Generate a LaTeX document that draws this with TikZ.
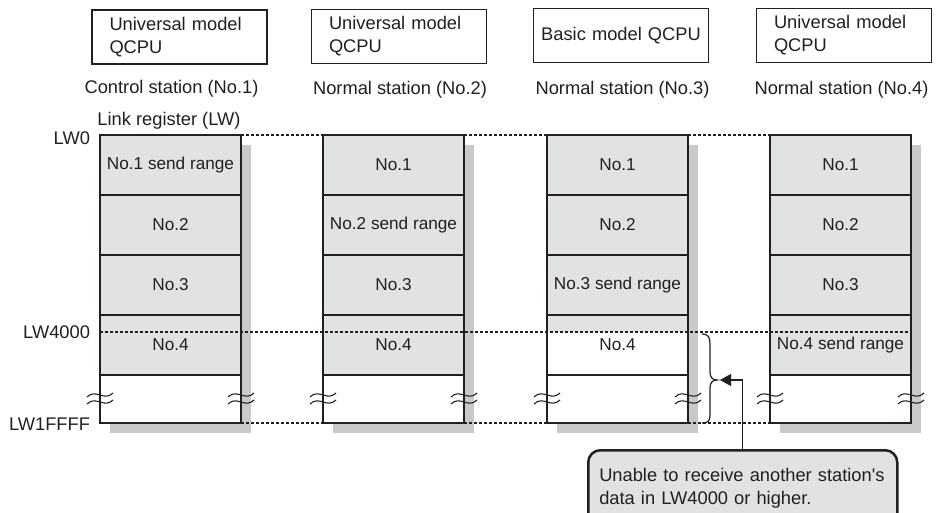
\documentclass[tikz,border=0pt]{standalone}
\usepackage{fontspec}
\setmainfont{Liberation Sans}
\usetikzlibrary{calc,arrows.meta}
\definecolor{ink}{HTML}{231F20}
\definecolor{cellgrey}{HTML}{E1E2E4}
\definecolor{shadowgrey}{HTML}{C8C9CB}
\definecolor{notegrey}{HTML}{E2E2E3}
\begin{document}
\begin{tikzpicture}[x=1pt,y=-1pt,
  lbl/.style={inner sep=0pt,outer sep=0pt,text=ink,font=\fontsize{18.3}{23}\selectfont},
  tbox/.style={draw=ink,line width=1.2pt,minimum width=175pt,minimum height=54pt,
    inner xsep=17.5pt,inner ysep=0pt,text width=140pt,align=left,text=ink,
    font=\fontsize{18.3}{23}\selectfont},
  cell/.style={draw=ink,line width=1.2pt,minimum width=141pt,minimum height=60pt,
    inner sep=0pt,outer sep=0pt,text=ink,font=\fontsize{17.2}{20}\selectfont},
  frame/.style={draw=ink,line width=2.5pt,minimum width=141pt,minimum height=288pt,
    inner sep=0pt,outer sep=0pt},
  dotline/.style={ink,line width=1.2pt,dash pattern=on 3pt off 2pt},
  note/.style={draw=ink,fill=notegrey,line width=2.5pt,rounded corners=12pt,
    minimum height=76pt,text width=287pt,inner xsep=11pt,inner ysep=0pt,
    align=left,text=ink,font=\fontsize{18.3}{23}\selectfont},
  brk/.pic={\draw[ink,line width=1.1pt] (-13,2) .. controls (-4,-7) and (4,7) .. (13,-2);}
]
\clip (0,0) rectangle (937,513);
\fill[white] (0,0) rectangle (937,513);

% CPU model boxes
\node[tbox] (t1) at (179.5,37) {Universal model\\QCPU};
\node[tbox] (t2) at (399,36.5) {Universal model\\QCPU};
\node[tbox,align=center,text width=165pt,inner xsep=5pt] (t3) at (621,35.5) {Basic model QCPU};
\node[tbox] (t4) at (844,35.5) {Universal model\\QCPU};

% station labels
\node[lbl] (s1) at (171.5,89) {Control station (No.1)};
\node[lbl] (s2) at (400,89.5) {Normal station (No.2)};
\node[lbl] (s3) at (622.5,89.5) {Normal station (No.3)};
\node[lbl] (s4) at (841.5,89.5) {Normal station (No.4)};

% link register columns
\foreach \i/\x/\ta/\tb/\tc/\td/\f in {
  1/170.5/{No.1 send range}/No.2/No.3/No.4/cellgrey,
  2/393.5/No.1/{No.2 send range}/No.3/No.4/cellgrey,
  3/617.5/No.1/No.2/{No.3 send range}/No.4/white,
  4/840.5/No.1/No.2/No.3/{No.4 send range}/cellgrey} {
  \fill[shadowgrey] ({\x-60.5},145) rectangle ({\x+80.5},433);
  \node[cell,fill=cellgrey] (c\i1) at (\x,165) {\ta};
  \node[cell,fill=cellgrey] (c\i2) at (\x,225) {\tb};
  \node[cell,fill=cellgrey] (c\i3) at (\x,285) {\tc};
  \node[cell,fill=\f] (c\i4) at (\x,345) {\td};
  \node[cell,fill=white,minimum height=48pt] (c\i5) at (\x,399) {};
}
\fill[cellgrey] ($(c34.north west)+(0.6,0.6)$) rectangle ($(c34.north east)+(-0.6,17)$);

\foreach \i/\x in {1/170.5,2/393.5,3/617.5,4/840.5} {
  \node[frame] (m\i) at (\x,279) {};
  \pic at ({\x-70.5},395) {brk};
  \pic at ({\x-70.5},402) {brk};
  \pic at ({\x+70.5},395) {brk};
  \pic at ({\x+70.5},402) {brk};
}

% address labels
\node[lbl] (lr) at (169,121) {Link register (LW)};
\node[lbl,anchor=east] (lw0) at (90,138) {LW0};
\node[lbl,anchor=east] (lw4) at (90,332) {LW4000};
\node[lbl,anchor=east] (lwf) at (90,424) {LW1FFFF};

% dotted address lines
\coordinate (y4000) at (0,332);
\draw[dotline] (m1.north east) -- (m2.north west) (m2.north east) -- (m3.north west)
  (m3.north east) -- (m4.north west);
\draw[dotline] (m1.south east) -- (m2.south west) (m2.south east) -- (m3.south west)
  (m3.south east) -- (m4.south west);
\draw[dotline] (m1.west |- y4000) -- (m4.east |- y4000);

% brace
\draw[ink,line width=1.2pt] (702,334) .. controls (708,334) and (710,337) .. (710,344)
  -- (710,372) .. controls (710,378) and (713,380) .. (717,380)
  .. controls (713,380) and (710,382) .. (710,388)
  -- (710,415) .. controls (710,421) and (708,423) .. (702,423);
\coordinate (btip) at (720,380);

% callout
\node[note,anchor=north west] (note) at (587,449)
  {Unable to receive another station\textquotesingle s\\data in LW4000 or higher.};
\draw[ink,line width=1.2pt,-{Triangle[length=11pt,width=12pt]}] (note.north) |- (btip);
\end{tikzpicture}
\end{document}
